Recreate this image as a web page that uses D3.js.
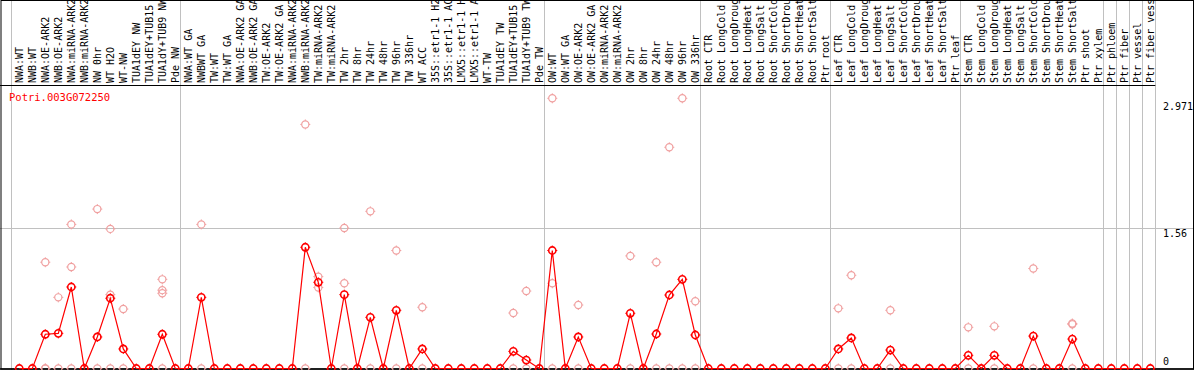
<!DOCTYPE html>
<html><head><meta charset="utf-8">
<script src="https://cdn.jsdelivr.net/npm/d3@7"></script>
<style>body{margin:0;background:#fff}svg{display:block}</style>
</head><body>
<svg id="c" width="1194" height="370"></svg>
<script>
const geneTitle = "Potri.003G072250";
const categories = [
 "NWA:WT","NWB:WT","NWA:OE-ARK2","NWB:OE-ARK2","NWA:miRNA-ARK2","NWB:miRNA-ARK2","NW 0hr","WT H2O","WT-NW","TUA1dEY NW","TUA1dEY+TUB15","TUA1dY+TUB9 NW","Pde NW",
 "NWA:WT GA","NWBWT GA","TW:WT","TW:WT GA","NWA:OE-ARK2 GA","NWB:OE-ARK2 GA","TW:OE-ARK2","TW:OE-ARK2 GA","NWA:miRNA-ARK2","NWB:miRNA-ARK2","TW:miRNA-ARK2","TW:miRNA-ARK2","TW 2hr","TW 8hr","TW 24hr","TW 48hr","TW 96hr","TW 336hr","WT ACC","35S::etr1-1 H2","35S::etr1-1 AC","LMX5::etr1-1 H","LMX5::etr1-1 A","WT-TW","TUA1dEY TW","TUA1dEY+TUB15","TUA1dY+TUB9 TW","Pde TW",
 "OW:WT","OW:WT GA","OW:OE-ARK2","OW:OE-ARK2 GA","OW:miRNA-ARK2","OW:miRNA-ARK2","OW 2hr","OW 8hr","OW 24hr","OW 48hr","OW 96hr","OW 336hr",
 "Root CTR","Root LongCold","Root LongDroug","Root LongHeat","Root LongSalt","Root ShortCold","Root ShortDrou","Root ShortHeat","Root ShortSalt","Ptr root",
 "Leaf CTR","Leaf LongCold","Leaf LongDroug","Leaf LongHeat","Leaf LongSalt","Leaf ShortCold","Leaf ShortDrou","Leaf ShortHeat","Leaf ShortSalt","Ptr leaf",
 "Stem CTR","Stem LongCold","Stem LongDroug","Stem LongHeat","Stem LongSalt","Stem ShortCold","Stem ShortDrou","Stem ShortHeat","Stem ShortSalt","Ptr shoot","Ptr xylem",
 "Ptr phloem","Ptr fiber","Ptr vessel","Ptr fiber vess"
];
// index of first column of each group (last = end)
const groupStarts = [0,13,41,53,63,73,84,85,86,87,88];
const means = [
 0,0,0.38,0.39,0.905,0,0.35,0.78,0.217,0,0,0.38,0,
 0,0.79,0,0,0,0,0,0,0,1.346,0.957,0,0.82,0,0.568,0,0.646,0,0.217,0,0,0,0,0,0,0.19,0.094,0,
 1.31,0,0.35,0,0,0,0.613,0,0.383,0.816,0.99,0.372,
 0,0,0,0,0,0,0,0,0,0,
 0.217,0.339,0,0,0.205,0,0,0,0,0,
 0.146,0,0.146,0,0,0.36,0,0,0.327,0,0,
 0,0,0,0
];
// replicate values per column (column index, values)
const repCols = [2,3,4,6,7,8,11,14,22,23,25,27,29,31,38,39,41,43,47,49,50,51,52,63,64,67,73,75,78,81];
const repVals = [
 [1.18,0,0],[0.79,0],[1.60,1.127,0],[1.77,0],[1.55,0.82,0],[0.66,0],[0.99,0.87,0.835,0],
 [1.60,0],[2.71,0],[1.02,0.90],[1.56,0.946,0],[1.745,0],[1.31,0],[0.68,0],[0.616,0],[0.86,0],
 [3.0,0.946,0],[0.705,0],[1.25,0],[1.18,0],[2.456,0],[3.0,0],[0.746,0],
 [0.668,0],[1.035,0],[0.646,0],[0.457,0],[0.468,0],[1.11,0],[0.50,0.49,0]
];
const yTicks = [0, 1.56, 2.971];

const svg = d3.select("#c");
const W = 1194, H = 370;
const x = d3.scaleLinear().domain([0, categories.length - 1]).range([19.3, 19.3 + 13 * (categories.length - 1)]);
const y = d3.scaleLinear().domain([0, 3]).range([368.5, 98.3]);
const font = "'DejaVu Sans Mono', 'Liberation Mono', monospace";

// group vertical separators
svg.append("g").selectAll("line").data(groupStarts).join("line")
  .attr("x1", d => Math.round(x(d) - 8) + 0.5).attr("x2", d => Math.round(x(d) - 8) + 0.5)
  .attr("y1", 0).attr("y2", H).attr("stroke", "#c0c0c0").attr("stroke-width", 1);

// horizontal grid at middle tick
svg.append("line").attr("x1", 0).attr("x2", W)
  .attr("y1", Math.round(y(yTicks[1])) + 0.5).attr("y2", Math.round(y(yTicks[1])) + 0.5)
  .attr("stroke", "#c0c0c0");

// labels
svg.append("g").selectAll("text").data(categories).join("text")
  .attr("transform", (d, i) => `translate(${x(i)},83) rotate(-90)`)
  .attr("dy", "0.36em")
  .attr("font-family", font).attr("font-size", 10).attr("fill", "#000")
  .text(d => d);

// frame lines
svg.append("line").attr("x1", 0).attr("x2", x(88) - 8).attr("y1", 85.5).attr("y2", 85.5).attr("stroke", "#000");
svg.append("rect").attr("x", 1).attr("y", 0.5).attr("width", W - 1.5).attr("height", H - 1.5)
  .attr("fill", "none").attr("stroke", "#000");
svg.append("line").attr("x1", 0).attr("x2", W).attr("y1", 369).attr("y2", 369).attr("stroke", "#000").attr("stroke-width", 1.5);

// title
svg.append("text").attr("x", 9).attr("y", 101).attr("font-family", font).attr("font-size", 10.5)
  .attr("fill", "#ff0000").text(geneTitle);

// right-side tick labels
svg.append("g").selectAll("text").data(yTicks).join("text")
  .attr("x", 1163)
  .attr("y", d => d === 0 ? 365 : y(d) + 9)
  .attr("font-family", font).attr("font-size", 10).attr("fill", "#000")
  .text(d => d3.format("")(d));

function marker(g, cx, cy, color, sw) {
  g.append("circle").attr("cx", cx).attr("cy", cy).attr("r", 3.6)
    .attr("fill", "none").attr("stroke", color).attr("stroke-width", sw);
  const t = [[0,-1],[0,1],[-1,0],[1,0]];
  t.forEach(([dx, dy]) => g.append("line")
    .attr("x1", cx + dx * 3.6).attr("y1", cy + dy * 3.6)
    .attr("x2", cx + dx * 5).attr("y2", cy + dy * 5)
    .attr("stroke", color).attr("stroke-width", 1));
}

// replicates
const gr = svg.append("g");
repCols.forEach((c, k) => repVals[k].forEach(v => marker(gr, x(c), y(v), "#f0a0a0", 1.2)));

// mean line
svg.append("path").datum(means)
  .attr("d", d3.line().x((d, i) => x(i)).y(d => y(d)))
  .attr("fill", "none").attr("stroke", "#ff0000").attr("stroke-width", 1.2);

// mean markers
const gm = svg.append("g");
means.forEach((v, i) => marker(gm, x(i), y(v), "#ff0000", 1.6));
</script>
</body></html>
